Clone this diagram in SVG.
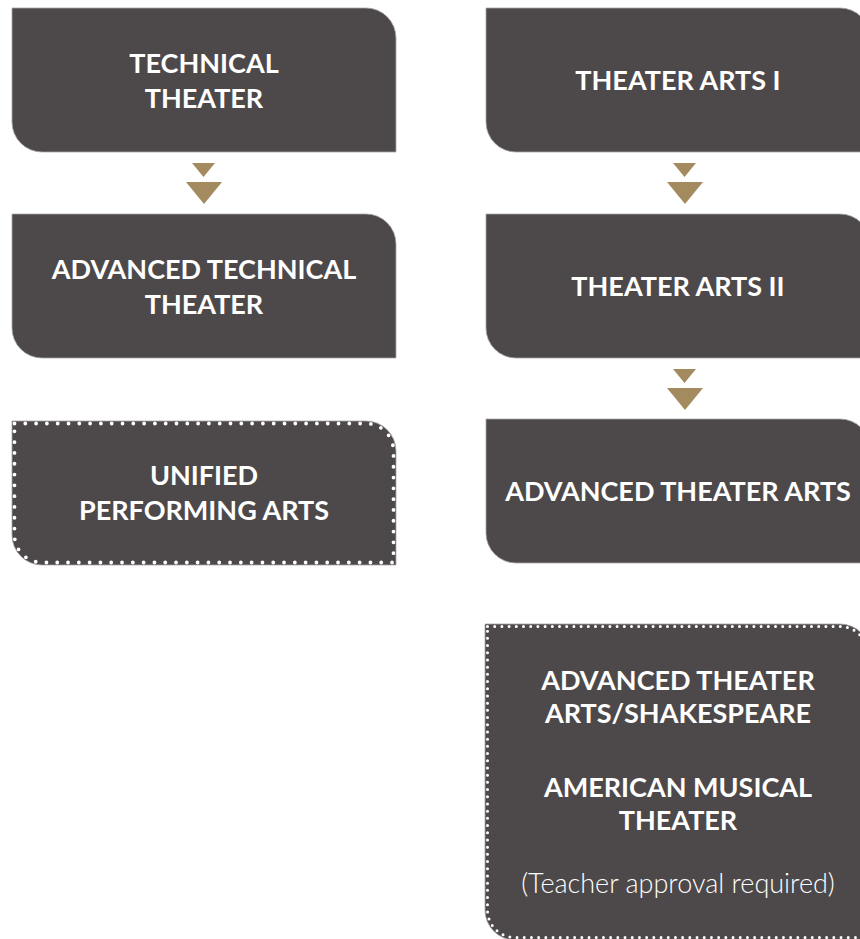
<svg xmlns="http://www.w3.org/2000/svg" width="860" height="939" viewBox="0 0 860 939">
<style>
.box{fill:#4d494a;stroke:#a9a6a7;stroke-width:0.8}
.dots{fill:none;stroke:#ffffff;stroke-linecap:round}
.dl{stroke-width:3.8;stroke-dasharray:0 10.8}
.dr{stroke-width:3;stroke-dasharray:0 7.2}
.t{font-family:Lato,"Open Sans","DejaVu Sans",sans-serif;font-weight:700;font-size:27px;fill:#ffffff;text-anchor:middle}
.n{font-family:Lato,"Open Sans","DejaVu Sans",sans-serif;font-weight:300;font-size:27px;fill:#ffffff;text-anchor:middle}
.arr{fill:#a38b5f}
</style>
<rect width="860" height="939" fill="#ffffff"/>
<g id="connectors">
<polygon class="arr" points="192,163 215,163 203.5,177"/>
<polygon class="arr" points="186,182 222,182 204,204"/>
<polygon class="arr" points="673,163 696,163 684.5,177"/>
<polygon class="arr" points="667,182 703,182 685,204"/>
<polygon class="arr" points="673,369 696,369 684.5,383"/>
<polygon class="arr" points="667,388 703,388 685,410"/>
</g>
<g id="technical-theater">
<path class="box" d="M12,8 H366 A30,30 0 0 1 396,38 V152 H42 A30,30 0 0 1 12,122 Z"/>
<text class="t" x="204" y="73">TECHNICAL</text>
<text class="t" x="204" y="108">THEATER</text>
</g>
<g id="advanced-technical-theater">
<path class="box" d="M12,214 H366 A30,30 0 0 1 396,244 V358 H42 A30,30 0 0 1 12,328 Z"/>
<text class="t" x="204" y="279">ADVANCED TECHNICAL</text>
<text class="t" x="204" y="314">THEATER</text>
</g>
<g id="unified-performing-arts">
<path class="box" d="M12,421 H366 A30,30 0 0 1 396,451 V565 H42 A30,30 0 0 1 12,535 Z"/>
<path class="dots dl" d="M14.5,423.5 H366 A27.5,27.5 0 0 1 393.5,451 V562.5 H42 A27.5,27.5 0 0 1 14.5,535 Z"/>
<text class="t" x="204" y="485">UNIFIED</text>
<text class="t" x="204" y="520">PERFORMING ARTS</text>
</g>
<g id="theater-arts-1">
<path class="box" d="M486,8 H840 A30,30 0 0 1 870,38 V152 H516 A30,30 0 0 1 486,122 Z"/>
<text class="t" x="678" y="90">THEATER ARTS I</text>
</g>
<g id="theater-arts-2">
<path class="box" d="M486,214 H840 A30,30 0 0 1 870,244 V358 H516 A30,30 0 0 1 486,328 Z"/>
<text class="t" x="678" y="296">THEATER ARTS II</text>
</g>
<g id="advanced-theater-arts">
<path class="box" d="M486,419 H840 A30,30 0 0 1 870,449 V563 H516 A30,30 0 0 1 486,533 Z"/>
<text class="t" x="678" y="501">ADVANCED THEATER ARTS</text>
</g>
<g id="advanced-electives">
<path class="box" d="M485,624 H840 A30,30 0 0 1 870,654 V940 H515 A30,30 0 0 1 485,910 Z"/>
<path class="dots dr" d="M487.5,626.5 H840 A27.5,27.5 0 0 1 867.5,654 V937.5 H515 A27.5,27.5 0 0 1 487.5,910 Z"/>
<text class="t" x="678" y="690">ADVANCED THEATER</text>
<text class="t" x="678" y="723">ARTS/SHAKESPEARE</text>
<text class="t" x="678" y="797">AMERICAN MUSICAL</text>
<text class="t" x="678" y="830">THEATER</text>
<text class="n" x="678" y="893">(Teacher approval required)</text>
</g>
</svg>
